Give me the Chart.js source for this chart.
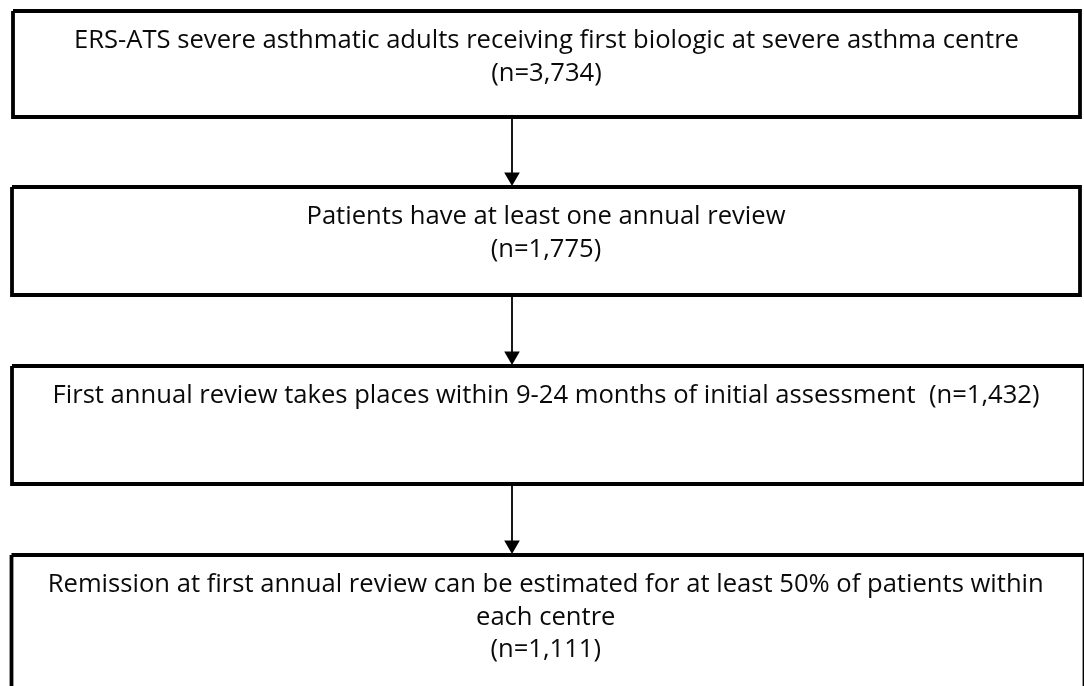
<!DOCTYPE html>
<html>
<head>
<meta charset="utf-8">
<script src="https://cdn.jsdelivr.net/npm/chart.js@4/dist/chart.umd.min.js"></script>
<style>
  html, body { margin: 0; padding: 0; background: #fff; }
  canvas { display: block; }
</style>
</head>
<body>
<canvas id="flow" width="1084" height="686"></canvas>
<script>
// --- DATA ---
const stageText = [
    ['ERS-ATS severe asthmatic adults receiving first biologic at severe asthma centre'],
    ['Patients have at least one annual review'],
    ['First annual review takes places within 9-24 months of initial assessment  (n=1,432)'],
    ['Remission at first annual review can be estimated for at least 50% of patients within', 'each centre']
];
const stageCounts = ['(n=3,734)', '(n=1,775)', '', '(n=1,111)'];

// box edges in page units (y grows downward)
const boxTop = [11, 187, 366, 555];
const boxBottom = [117, 295, 484, 700];
const boxLeft = [13, 12, 12, 11.5];
const boxRight = [1080, 1080, 1084.5, 1084.5];

const arrowX = 512;
const lineGap = 32.5;
const firstLineOffset = 30;

// --- DATASETS ---
const datasets = [];

boxTop.forEach((top, i) => {
    const l = boxLeft[i], r = boxRight[i], b = boxBottom[i];
    datasets.push({
        data: [{x: l, y: top}, {x: r, y: top}, {x: r, y: b}, {x: l, y: b}, {x: l, y: top}],
        showLine: true,
        borderColor: '#000',
        borderWidth: 3.8,
        pointRadius: 0,
        borderJoinStyle: 'miter',
        tension: 0
    });
});

// arrows between boxes
for (let i = 0; i < boxTop.length - 1; i++) {
    const from = boxBottom[i];
    const to = boxTop[i + 1] - 1;
    const head = 9;
    datasets.push({
        data: [{x: arrowX, y: from}, {x: arrowX, y: to - head}],
        showLine: true,
        borderColor: '#000',
        borderWidth: 1.8,
        pointRadius: [0, head],
        pointStyle: 'triangle',
        rotation: 180,
        pointBackgroundColor: '#000',
        pointBorderWidth: 0,
        tension: 0
    });
}

// --- TEXT PLUGIN ---
const boxLabels = {
    id: 'boxLabels',
    afterDatasetsDraw(chart) {
        const ctx = chart.ctx;
        const xs = chart.scales.x, ys = chart.scales.y;
        ctx.save();
        ctx.fillStyle = '#0a0a0a';
        ctx.font = '25.6px "Open Sans", sans-serif';
        ctx.textAlign = 'center';
        ctx.textBaseline = 'middle';
        stageText.forEach((lines, i) => {
            const cx = xs.getPixelForValue((boxLeft[i] + Math.min(boxRight[i], 1080)) / 2);
            const all = stageCounts[i] ? lines.concat([stageCounts[i]]) : lines;
            all.forEach((t, k) => {
                const y = ys.getPixelForValue(boxTop[i] + firstLineOffset + k * lineGap);
                ctx.fillText(t, cx, y);
            });
        });
        ctx.restore();
    }
};

new Chart(document.getElementById('flow'), {
    type: 'scatter',
    data: { datasets },
    options: {
        responsive: false,
        animation: false,
        layout: { padding: 0, autoPadding: false },
        scales: {
            x: { type: 'linear', min: 0, max: 1084, display: false },
            y: { type: 'linear', min: 0, max: 686, reverse: true, display: false }
        },
        plugins: {
            legend: { display: false },
            tooltip: { enabled: false }
        },
        clip: false
    },
    plugins: [boxLabels]
});
</script>
</body>
</html>
